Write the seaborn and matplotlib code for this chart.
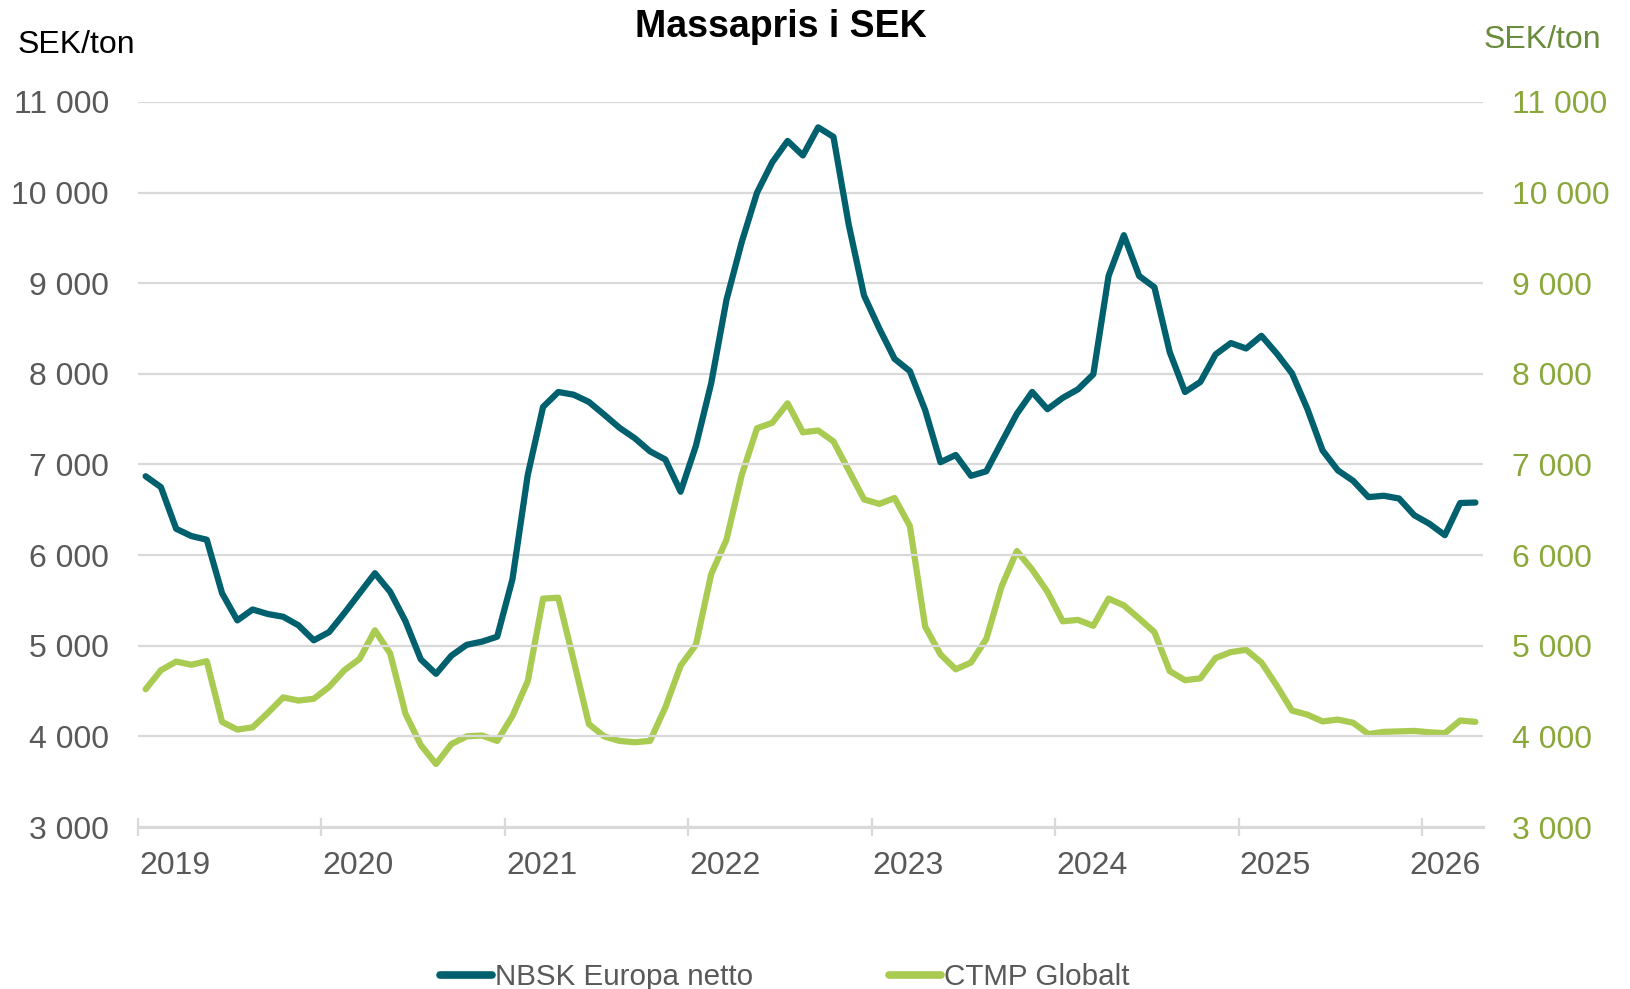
import numpy as np
import pandas as pd
import matplotlib
matplotlib.use('Agg')
import matplotlib.pyplot as plt
from matplotlib.ticker import FuncFormatter
import seaborn as sns

# monthly data, Jan 2019 - Apr 2026
years = [2019, 2020, 2021, 2022, 2023, 2024, 2025, 2026]
nbsk = [6870, 6750, 6290, 6210, 6170, 5580, 5280, 5400, 5350, 5320, 5225, 5060,
        5150, 5360, 5580, 5800, 5595, 5270, 4850, 4690, 4890, 5010, 5045, 5100,
        5735, 6885, 7635, 7800, 7770, 7690, 7550, 7405, 7290, 7145, 7055, 6700,
        7205, 7895, 8815, 9455, 10000, 10335, 10570, 10410, 10720, 10615, 9645, 8865,
        8500, 8165, 8030, 7600, 7025, 7105, 6875, 6925, 7245, 7560, 7800, 7610,
        7735, 7830, 7995, 9080, 9530, 9080, 8955, 8240, 7800, 7910, 8215, 8340,
        8280, 8420, 8225, 8005, 7615, 7155, 6935, 6820, 6640, 6655, 6625, 6440,
        6345, 6220, 6575, 6580]
ctmp = [4520, 4730, 4825, 4790, 4830, 4160, 4075, 4100, 4260, 4430, 4395, 4415,
        4545, 4730, 4855, 5170, 4915, 4250, 3905, 3695, 3915, 4000, 4010, 3950,
        4225, 4610, 5520, 5530, 4840, 4135, 4000, 3950, 3935, 3950, 4320, 4780,
        5010, 5790, 6170, 6885, 7400, 7460, 7675, 7355, 7375, 7255, 6935, 6615,
        6565, 6630, 6320, 5210, 4905, 4740, 4815, 5075, 5655, 6045, 5840, 5595,
        5270, 5285, 5220, 5520, 5445, 5300, 5150, 4720, 4620, 4640, 4865, 4930,
        4955, 4815, 4560, 4285, 4240, 4165, 4185, 4150, 4025, 4050, 4055, 4060,
        4045, 4035, 4175, 4160]

df = pd.DataFrame({'month': np.arange(len(nbsk)) + 0.5,
                   'NBSK Europa netto': nbsk,
                   'CTMP Globalt': ctmp})

dark = '#00606E'
green = '#A9CB51'
tick_green = '#8AA83A'
unit_green = '#6A8A3C'
grey_txt = '#595959'
grid_col = '#D9D9D9'

sns.set_style('white')
plt.rcParams['font.family'] = ['Liberation Sans', 'DejaVu Sans']

fig = plt.figure(figsize=(16.31, 9.89), dpi=100)
ax = fig.add_axes([0.0846, 0.1638, 0.8247, 0.7331])
ax2 = ax.twinx()

sns.lineplot(data=df, x='month', y='NBSK Europa netto', ax=ax, color=dark,
             linewidth=4.5, label='NBSK Europa netto', legend=False, zorder=3)
sns.lineplot(data=df, x='month', y='CTMP Globalt', ax=ax2, color=green,
             linewidth=4.5, label='CTMP Globalt', legend=False, zorder=3)

fmt = FuncFormatter(lambda v, p: f'{int(v):,}'.replace(',', ' '))
for a in (ax, ax2):
    a.set_ylim(3000, 11000)
    a.set_xlim(0, len(nbsk))
    a.set_yticks(range(3000, 11001, 1000))
    a.yaxis.set_major_formatter(fmt)
    a.set_xlabel('')
    a.set_ylabel('')
    for s in a.spines.values():
        s.set_visible(False)

ax.set_zorder(ax2.get_zorder() + 1)
ax.patch.set_visible(False)

ax.grid(axis='y', color=grid_col, linewidth=1.6)
ax.grid(axis='x', visible=False)
ax2.grid(False)
ax.spines['bottom'].set_visible(True)
ax.spines['bottom'].set_color(grid_col)
ax.spines['bottom'].set_linewidth(2.2)

ax.tick_params(axis='y', length=0, pad=21, labelsize=23, labelcolor=grey_txt)
ax2.tick_params(axis='y', length=0, pad=21, labelsize=23, labelcolor=tick_green)

# year ticks at year boundaries, labels just right of them
ax.set_xticks([12 * i for i in range(len(years))])
ax.set_xticklabels([])
ax.tick_params(axis='x', which='major', bottom=True, direction='inout',
               length=13, width=1.6, color=grid_col)
lab_pos = [12 * i + 2.4 for i in range(len(years) - 1)] + [len(nbsk) - 2.5]
ax.set_xticks(lab_pos, minor=True)
ax.set_xticklabels([str(y) for y in years], minor=True)
ax.tick_params(axis='x', which='minor', bottom=True, length=0, pad=17,
               labelsize=23, labelcolor=grey_txt)

fig.text(0.479, 0.973, 'Massapris i SEK', ha='center', va='center',
         fontsize=27, fontweight='bold', color='black')
fig.text(0.011, 0.9545, 'SEK/ton', ha='left', va='center', fontsize=23,
         color='black')
fig.text(0.9455, 0.9596, 'SEK/ton', ha='center', va='center', fontsize=23,
         color=unit_green)

h1, l1 = ax.get_legend_handles_labels()
h2, l2 = ax2.get_legend_handles_labels()
leg = fig.legend(h1 + h2, l1 + l2, loc='center', bbox_to_anchor=(0.481, 0.0122),
                 ncol=2, frameon=False, fontsize=21.3, handlelength=1.75,
                 handletextpad=0.1, columnspacing=4.6)
for t in leg.get_texts():
    t.set_color(grey_txt)
for h in leg.get_lines():
    h.set_linewidth(5.5)
    h.set_solid_capstyle('round')

fig.savefig('out.png', dpi=100)
